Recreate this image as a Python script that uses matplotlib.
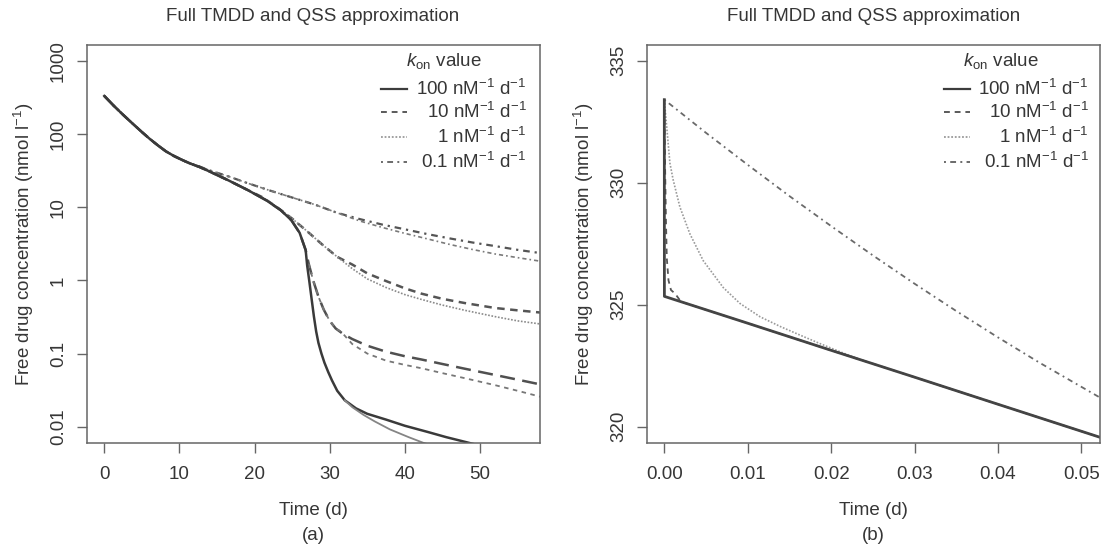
import matplotlib
matplotlib.use("Agg")
import matplotlib.pyplot as plt
from matplotlib.ticker import FixedLocator, FixedFormatter, NullLocator

plt.rcParams['font.family'] = ['Liberation Sans', 'DejaVu Sans']
plt.rcParams['mathtext.fontset'] = 'custom'
plt.rcParams['mathtext.rm'] = 'Liberation Sans'
plt.rcParams['mathtext.it'] = 'Liberation Sans:italic'
plt.rcParams['mathtext.default'] = 'regular'

TXT = '#363636'
FS = 13.5

# ---------------- data: panel (a) ----------------
t_common = [0, 1.25, 2.5, 3.75, 5, 6, 7.15, 8.2, 9.3, 10.4, 11.4, 12.7, 14, 16.5, 19, 21.6, 23.5, 24.9, 26, 26.8]
c_common = [333, 245, 184, 140, 107, 87, 70, 58.2, 50.1, 44.2, 39.8, 35.5, 30.9, 23.4, 17.4, 12.4, 9.1, 6.65, 4.47, 2.6]

# kon = 100
t_100_full = [27.0, 27.3, 27.6, 27.9, 28.2, 28.5, 28.9, 29.3, 29.8, 30.3, 31, 32, 33.5, 35, 37.5, 40, 43, 45.5, 48.3, 50]
c_100_full = [1.6, 0.95, 0.55, 0.32, 0.2, 0.14, 0.1, 0.075, 0.056, 0.043, 0.031, 0.023, 0.0178, 0.015, 0.0125, 0.0103, 0.0085, 0.0072, 0.0061, 0.0055]
t_100_qss = [33, 34.5, 36, 38, 40.5, 42.5, 44]
c_100_qss = [0.0185, 0.0145, 0.0118, 0.0092, 0.0072, 0.006, 0.0054]

# kon = 10
t_10_full = [27.2, 27.8, 28.5, 29.2, 30, 30.8, 31.8, 33, 35, 37.5, 40, 42.2, 45, 48, 52, 55, 58.5]
c_10_full = [1.7, 1.0, 0.6, 0.4, 0.28, 0.22, 0.185, 0.158, 0.128, 0.106, 0.092, 0.083, 0.072, 0.062, 0.051, 0.044, 0.037]
t_10_qss = [31.5, 33, 35, 37.5, 40, 42.2, 45, 48, 52, 55, 58.5]
c_10_qss = [0.2, 0.135, 0.1, 0.08, 0.07, 0.063, 0.054, 0.046, 0.037, 0.031, 0.025]

# kon = 1
t_1_full = [21, 23, 25, 27, 29, 31, 33, 35, 37.5, 40, 42.2, 45, 48, 52, 55, 58.5]
c_1_full = [13.8, 10.0, 7.0, 4.7, 3.1, 2.1, 1.65, 1.25, 0.98, 0.78, 0.66, 0.56, 0.49, 0.42, 0.39, 0.36]
t_1_qss = [33, 35, 37.5, 40, 42.2, 45, 48, 52, 55, 58.5]
c_1_qss = [1.45, 1.05, 0.8, 0.64, 0.55, 0.46, 0.39, 0.32, 0.28, 0.25]

# kon = 0.1
t_01_full = [12.7, 14, 16.5, 19, 22, 25, 28, 31, 34, 37, 40, 43, 46, 49, 52, 55, 58.5]
c_01_full = [36.0, 32.0, 26.5, 21.5, 17.0, 13.6, 10.9, 8.4, 6.9, 5.8, 5.0, 4.3, 3.75, 3.3, 2.95, 2.62, 2.33]
t_01_qss = [34, 37, 40, 43, 46, 49, 52, 55, 58.5]
c_01_qss = [6.5, 5.3, 4.4, 3.7, 3.1, 2.65, 2.3, 2.05, 1.8]

# ---------------- data: panel (b) ----------------
tb_100 = [0, 0.00001, 0.01, 0.02, 0.03, 0.04, 0.0522]
vb_100 = [333.4, 325.34, 324.24, 323.13, 322.03, 320.92, 319.57]
tb_10 = [0, 0.0001, 0.0002, 0.0003, 0.0005, 0.0008, 0.0013, 0.002, 0.01, 0.02, 0.03, 0.04, 0.0522]
vb_10 = [333.4, 330.5, 328.4, 326.9, 326.0, 325.6, 325.45, 325.12, 324.24, 323.13, 322.03, 320.92, 319.57]
tb_1 = [0, 0.00067, 0.00107, 0.00187, 0.00307, 0.00467, 0.00707, 0.00907, 0.0115, 0.014, 0.0165,
        0.0187, 0.021, 0.0235, 0.03, 0.04, 0.0522]
vb_1 = [333.4, 330.8, 330.1, 329.0, 327.9, 326.8, 325.7, 325.05, 324.5, 324.09, 323.72,
        323.40, 323.08, 322.75, 322.03, 320.92, 319.57]
tb_01 = [0, 0.005, 0.01, 0.015, 0.02, 0.025, 0.03, 0.035, 0.04, 0.045, 0.0522]
vb_01 = [333.4, 332.04, 330.73, 329.45, 328.22, 327.02, 325.86, 324.74, 323.66, 322.62, 321.2]

# ticks / labels
xticks_a = [0, 10, 20, 30, 40, 50]
yticks_a = [0.01, 0.1, 1, 10, 100, 1000]
ylabels_a = ['0.01', '0.1', '1', '10', '100', '1000']
xticks_b = [0.00, 0.01, 0.02, 0.03, 0.04, 0.05]
xlabels_b = ['0.00', '0.01', '0.02', '0.03', '0.04', '0.05']
yticks_b = [320, 325, 330, 335]
legend_labels = [r'100 nM$^{-1}$ d$^{-1}$', r'10 nM$^{-1}$ d$^{-1}$',
                 r'1 nM$^{-1}$ d$^{-1}$', r'0.1 nM$^{-1}$ d$^{-1}$']
title = 'Full TMDD and QSS approximation'

leg_styles = [
    dict(color='#3c3c3c', lw=1.6, ls='-'),
    dict(color='#5a5a5a', lw=1.4, ls=(0, (3, 2.5))),
    dict(color='#9a9a9a', lw=1.3, ls=(0, (1, 1))),
    dict(color='#6a6a6a', lw=1.4, ls=(0, (1, 2.2, 3, 2.2))),
]

fig = plt.figure(figsize=(11.04, 5.47), dpi=100)
axa = fig.add_axes([86.5 / 1104, (547 - 443.3) / 547, 453.2 / 1104, 398.3 / 547])
axb = fig.add_axes([646.8 / 1104, (547 - 443.3) / 547, 452.9 / 1104, 398.3 / 547])

def style_axes(ax):
    for s in ax.spines.values():
        s.set_color('#666666')
        s.set_linewidth(1.1)
    ax.tick_params(axis='both', which='major', direction='out', length=7.2, width=1.0,
                   color='#666666', labelsize=FS, labelcolor=TXT)
    ax.tick_params(axis='x', pad=9)
    ax.tick_params(axis='y', pad=7)
    for lab in ax.get_yticklabels():
        lab.set_rotation(90)
        lab.set_va('center')
    ax.set_title(title, fontsize=FS, color=TXT, pad=17)
    ax.set_xlabel('Time (d)', fontsize=FS, color=TXT, labelpad=14)
    ax.set_ylabel(r'Free drug concentration (nmol l$^{-1}$)', fontsize=FS, color=TXT, labelpad=10)

def draw_legend(ax, x0, x1, xr, xc, ytitle, ys):
    ax.text(xc, ytitle, r'$\mathit{k}_{on}$ value', transform=ax.transAxes, ha='center',
            va='center', fontsize=FS, color=TXT)
    for st, lab, y in zip(leg_styles, legend_labels, ys):
        ax.plot([x0, x1], [y, y], transform=ax.transAxes, clip_on=False, **st)
        ax.text(xr, y, lab, transform=ax.transAxes, ha='right', va='center',
                fontsize=FS, color=TXT)

# ---------- panel (a) ----------
ax = axa
ax.set_yscale('log')
# kon = 0.1
ax.plot(t_common[:11] + t_01_full, c_common[:11] + c_01_full, color='#555555', lw=1.6,
        ls=(0, (1, 2.2, 3, 2.2)))
ax.plot(t_01_full[:8] + t_01_qss, c_01_full[:8] + c_01_qss, color='#7a7a7a', lw=1.2,
        ls=(0, (1, 1.8, 2.5, 1.8)))
# kon = 1
ax.plot(t_common[:15] + t_1_full, c_common[:15] + c_1_full, color='#555555', lw=1.8,
        ls=(0, (3, 2.2)))
ax.plot(t_1_full[:6] + t_1_qss, c_1_full[:6] + c_1_qss, color='#8a8a8a', lw=1.2,
        ls=(0, (1, 1)))
# kon = 10
ax.plot(t_common + t_10_full, c_common + c_10_full, color='#505050', lw=1.8,
        ls=(0, (6, 3)))
ax.plot(t_10_full[:6] + t_10_qss, c_10_full[:6] + c_10_qss, color='#777777', lw=1.3,
        ls=(0, (2.5, 2.5)))
# kon = 100
ax.plot(t_common + t_100_full, c_common + c_100_full, color='#3a3a3a', lw=1.8, ls='-')
ax.plot(t_100_full[11:12] + t_100_qss, c_100_full[11:12] + c_100_qss, color='#858585', lw=1.3, ls='-')

ax.set_xlim(-2.37, 57.95)
ax.set_ylim(10 ** -2.227, 10 ** 3.219)
ax.xaxis.set_major_locator(FixedLocator(xticks_a))
ax.yaxis.set_major_locator(FixedLocator(yticks_a))
ax.yaxis.set_major_formatter(FixedFormatter(ylabels_a))
ax.yaxis.set_minor_locator(NullLocator())
style_axes(ax)
draw_legend(ax, 0.650, 0.707, 0.971, 0.789, 0.960, [0.890, 0.832, 0.769, 0.707])

# ---------- panel (b) ----------
ax = axb
ax.plot(tb_01, vb_01, color='#6a6a6a', lw=1.3, ls=(0, (1, 2.2, 3, 2.2)))
ax.plot(tb_1, vb_1, color='#9a9a9a', lw=1.2, ls=(0, (1, 1)))
ax.plot(tb_10, vb_10, color='#555555', lw=1.3, ls=(0, (3, 2.5)))
ax.plot(tb_100, vb_100, color='#444444', lw=2.0, ls='-')
ax.set_xlim(-0.0021, 0.0522)
ax.set_ylim(319.32, 335.64)
ax.xaxis.set_major_locator(FixedLocator(xticks_b))
ax.xaxis.set_major_formatter(FixedFormatter(xlabels_b))
ax.yaxis.set_major_locator(FixedLocator(yticks_b))
style_axes(ax)
draw_legend(ax, 0.656, 0.714, 0.976, 0.782, 0.960, [0.890, 0.832, 0.769, 0.707])

fig.text(313.1 / 1104, 1 - 535 / 547, '(a)', ha='center', va='center', fontsize=FS, color=TXT)
fig.text(873.2 / 1104, 1 - 535 / 547, '(b)', ha='center', va='center', fontsize=FS, color=TXT)

fig.savefig('out.png', dpi=100, facecolor='white')
